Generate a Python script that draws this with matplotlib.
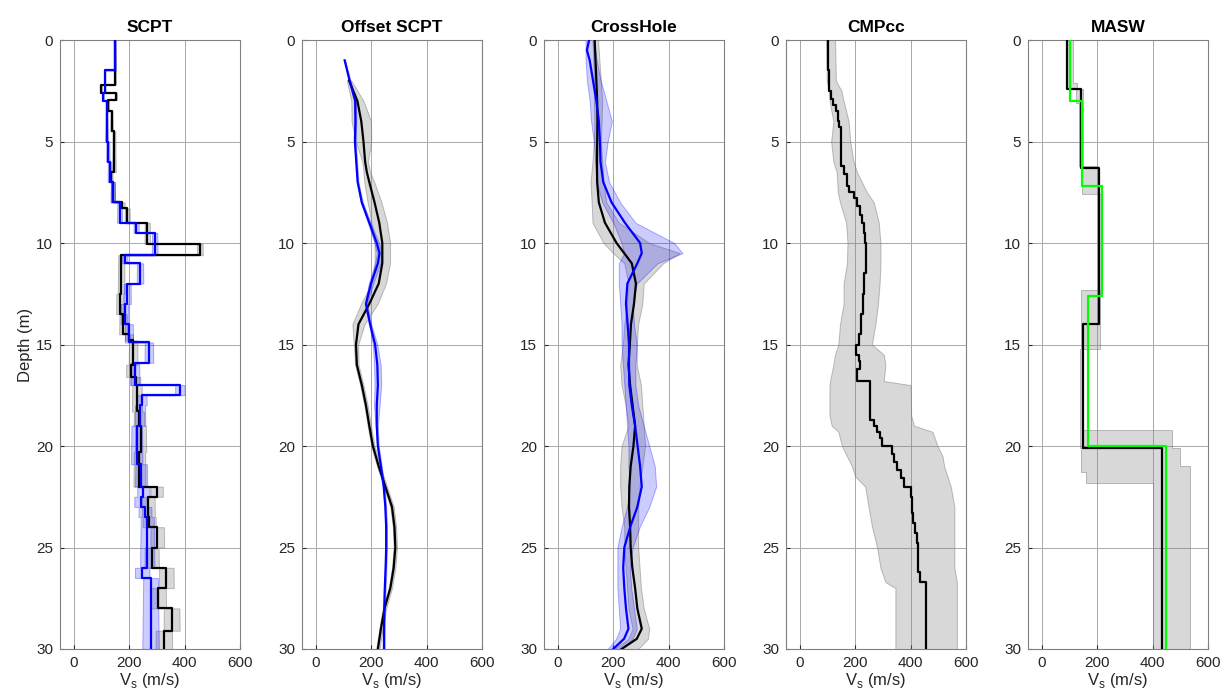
import numpy as np
import matplotlib
matplotlib.use('Agg')
import matplotlib.pyplot as plt

plt.rcParams['font.family'] = ['Liberation Sans', 'DejaVu Sans']

TITLES = ["SCPT", "Offset SCPT", "CrossHole", "CMPcc", "MASW"]
X_TICKS = [0, 200, 400, 600]
Y_TICKS = [0, 5, 10, 15, 20, 25, 30]

# SCPT, layered profiles (layer edges in m, Vs in m/s)
scpt_black_bounds = [0, 2.2, 2.6, 2.95, 3.5, 4.5, 6.5, 7.0, 8.0, 8.3, 9.0, 10.05, 10.6, 12.5, 13.5, 14.5,
                     14.8, 16.0, 16.6, 17.0, 18.3, 19.0, 20.3, 22.0, 22.5, 23.5, 24.0, 25.0, 26.0, 27.0,
                     28.0, 29.1, 30.0]
scpt_black_vs = [150, 99, 153, 124, 136, 145, 133, 141, 175, 193, 265, 455, 171, 166, 178, 199, 214, 205,
                 223, 228, 235, 241, 237, 299, 269, 272, 301, 281, 334, 305, 353, 325]
scpt_black_sd = [2, 3, 2, 2, 2, 2, 2, 2, 2, 2, 3, 10, 2, 2, 2, 2, 2, 2, 2, 2, 2, 2, 2, 3, 3, 3, 8, 3, 3,
                 3, 3, 12]
scpt_blue_bounds = [0, 1.5, 2.6, 3.0, 5.0, 6.0, 7.0, 8.0, 9.0, 9.5, 10.6, 11.0, 12.0, 13.0, 14.0, 14.9,
                    15.9, 17.0, 17.5, 18.0, 19.0, 20.9, 22.0, 22.5, 23.0, 23.5, 26.0, 26.5, 30.0]
scpt_blue_vs = [150, 112, 106, 118, 123, 129, 141, 165, 225, 292, 183, 239, 193, 183, 199, 271, 220, 383,
                245, 239, 227, 243, 251, 241, 257, 265, 247, 277]
scpt_blue_sd = [2, 2, 2, 2, 2, 2, 2, 2, 2, 2, 2, 5, 2, 2, 2, 2, 2, 10, 4, 2, 2, 2, 3, 7, 7, 2, 2, 2]

# Offset SCPT, smooth profiles
off_blue_depth = [1, 2, 3, 4, 5, 6, 7, 8, 9, 10, 10.5, 11, 12, 13, 14, 15, 16, 17, 18, 19, 20, 21, 22,
                  23, 24, 25, 26, 27, 28, 29, 30]
off_blue_vs = [104, 122, 142, 143, 141, 146, 151, 166, 193, 220, 230, 224, 199, 181, 196, 214, 222, 224,
               220, 220, 224, 235, 245, 251, 254, 254, 252, 249, 247, 246, 246]
off_blue_sd = [2, 3, 3, 3, 3, 3, 3, 4, 5, 8, 10, 10, 8, 4, 4, 8, 12, 12, 10, 4, 3, 3, 3, 3, 3, 3, 3, 3,
               3, 3, 3]
off_black_depth = [2, 3, 4, 5, 6, 6.5, 7, 8, 9, 10, 11, 12, 13, 14, 15, 16, 17, 18, 19, 20, 21, 22, 23,
                   24, 25, 26, 27, 28, 29, 30]
off_black_vs = [120, 150, 164, 172, 178, 184, 193, 212, 229, 240, 240, 227, 193, 154, 145, 148, 166, 181,
                193, 206, 227, 251, 275, 284, 287, 281, 269, 248, 235, 224]
off_black_sd = [8, 22, 35, 28, 10, 12, 18, 25, 28, 28, 28, 26, 30, 22, 8, 6, 6, 6, 6, 6, 6, 6, 6, 6, 6,
                6, 6, 6, 6, 6]

# CrossHole
ch_black_depth = [0, 1, 2, 3, 4, 5, 6, 7, 8, 9, 10, 11, 12, 13, 14, 15, 16, 17, 18, 19, 20, 21, 22, 23,
                  24, 25, 26, 27, 28, 29, 29.5, 30]
ch_black_vs = [133, 136, 139, 142, 143, 142, 141, 142, 148, 170, 212, 267, 282, 275, 264, 260, 255, 261,
               270, 279, 273, 263, 258, 257, 261, 263, 269, 279, 287, 303, 285, 230]
ch_blue_depth = [0, 0.5, 1, 2, 3, 4, 5, 6, 7, 8, 9, 10, 10.5, 11, 12, 13, 14, 15, 16, 17, 18, 19, 20, 21,
                 22, 23, 24, 25, 26, 27, 28, 29, 29.5, 30]
ch_blue_vs = [113, 105, 115, 127, 139, 148, 152, 154, 164, 194, 242, 297, 303, 287, 251, 246, 252, 257,
              257, 258, 267, 279, 288, 297, 303, 287, 261, 240, 236, 240, 246, 255, 239, 200]
ch_band_depth = [0, 1, 2, 3, 4, 5, 6, 7, 8, 9, 10, 10.5, 11, 12, 13, 14, 15, 16, 17, 18, 19, 20, 21, 22,
                 23, 24, 25, 26, 27, 28, 29, 29.5, 30]
ch_gray_lo = [125, 128, 130, 130, 132, 130, 125, 118, 122, 125, 165, 200, 240, 255, 250, 240, 235, 225,
              230, 245, 255, 230, 225, 225, 230, 240, 240, 245, 250, 255, 270, 255, 205]
ch_gray_hi = [145, 150, 155, 160, 158, 155, 160, 165, 175, 220, 330, 440, 380, 310, 305, 290, 285, 285,
              300, 305, 310, 315, 305, 295, 290, 290, 290, 295, 300, 310, 330, 325, 290]
ch_blue_lo = [100, 100, 105, 115, 120, 130, 135, 140, 160, 200, 230, 240, 220, 220, 225, 230, 230, 235,
              240, 245, 250, 255, 255, 260, 250, 230, 215, 215, 215, 220, 225, 210, 180]
ch_blue_hi = [130, 140, 155, 175, 195, 180, 170, 185, 225, 280, 420, 450, 360, 285, 270, 275, 285, 280,
              280, 290, 310, 330, 350, 355, 330, 295, 270, 260, 265, 275, 285, 270, 230]

# CMPcc
cmp_bounds = [0, 1.5, 2.5, 2.9, 3.2, 3.5, 4.0, 4.3, 6.2, 6.6, 7.2, 7.5, 7.8, 8.2, 8.6, 9.0, 9.5, 10.0,
              11.5, 12.5, 13.5, 14.5, 15.0, 15.5, 15.8, 16.2, 16.8, 18.7, 19.0, 19.3, 19.6, 20.0, 20.4,
              20.8, 21.2, 21.6, 22.0, 22.5, 23.3, 23.8, 24.3, 24.8, 26.2, 26.7, 30]
cmp_vs = [103, 107, 111, 121, 130, 136, 143, 149, 160, 170, 179, 194, 206, 216, 224, 230, 236, 239, 233,
          228, 221, 212, 202, 212, 218, 206, 252, 267, 279, 288, 297, 333, 339, 351, 364, 376, 400, 406,
          410, 416, 422, 427, 433, 455]
cmp_band_depth = [0, 2, 2.5, 3, 4, 5, 6, 6.5, 7.5, 8, 9, 10, 11, 12, 13, 14, 15, 15.5, 16, 16.8, 17,
                  18.5, 19, 19.3, 20, 20.5, 21, 21.5, 22, 23, 24, 25, 26, 26.7, 27, 30]
cmp_band_lo = [95, 97, 105, 107, 121, 113, 121, 133, 137, 145, 167, 172, 170, 158, 158, 145, 139, 127,
               121, 109, 107, 107, 115, 139, 152, 170, 188, 200, 236, 248, 261, 279, 291, 309, 345, 345]
cmp_band_hi = [127, 130, 150, 158, 176, 182, 194, 206, 242, 267, 285, 291, 291, 288, 282, 273, 260, 303,
               309, 303, 400, 402, 412, 479, 497, 515, 521, 533, 545, 558, 558, 558, 558, 567, 567, 567]

# MASW
masw_black_bounds = [0, 2.4, 6.3, 14.0, 20.1, 30]
masw_black_vs = [92, 143, 207, 147, 434]
masw_green_bounds = [0, 3.0, 7.2, 12.6, 20.0, 30]
masw_green_vs = [103, 145, 217, 165, 450]
masw_band_bounds = [0, 2.1, 2.4, 3.1, 6.2, 7.6, 12.3, 15.2, 19.2, 20.1, 21.0, 21.3, 21.8, 30]
masw_band_lo = [92, 92, 125, 133, 145, 203, 140, 137, 137, 143, 143, 159, 400]
masw_band_hi = [113, 127, 147, 149, 204, 212, 210, 149, 470, 500, 534, 534, 534]

GRAY_FACE = (0.5, 0.5, 0.5, 0.3)
GRAY_EDGE = (0.45, 0.45, 0.45, 0.45)
BLUE_FACE = (0.0, 0.0, 1.0, 0.2)
BLUE_EDGE = (0.0, 0.0, 1.0, 0.3)


def layers(bounds, values):
    # turn layer edges + layer values into a vertical step line
    d = np.repeat(np.asarray(bounds, float), 2)[1:-1]
    v = np.repeat(np.asarray(values, float), 2)
    return v, d


def band(ax, depth, lo, hi, face, edge):
    ax.fill_betweenx(depth, lo, hi, facecolor=face, edgecolor=edge,
                     linewidth=0.7, zorder=2)


fig = plt.figure(figsize=(12.31, 6.99), dpi=100)
lefts = [60, 302, 544, 786, 1028]
axes = []
for i, l in enumerate(lefts):
    ax = fig.add_axes([l / 1231, 50 / 699, 180 / 1231, 609 / 699])
    axes.append(ax)

# SCPT
ax = axes[0]
v, d = layers(scpt_black_bounds, scpt_black_vs)
_, sd = layers(scpt_black_bounds, scpt_black_sd)
band(ax, d, v - sd, v + sd, GRAY_FACE, GRAY_EDGE)
vb, db = layers(scpt_blue_bounds, scpt_blue_vs)
_, sdb = layers(scpt_blue_bounds, scpt_blue_sd)
band(ax, db, vb - sdb, vb + sdb, BLUE_FACE, BLUE_EDGE)
ax.plot(v, d, color="black", lw=1.6, zorder=3)
ax.plot(vb, db, color="blue", lw=1.6, zorder=4)

# Offset SCPT
ax = axes[1]
ob = np.array(off_black_vs, float)
osd = np.array(off_black_sd, float)
band(ax, off_black_depth, ob - osd, ob + osd, GRAY_FACE, GRAY_EDGE)
obl = np.array(off_blue_vs, float)
obsd = np.array(off_blue_sd, float)
band(ax, off_blue_depth, obl - obsd, obl + obsd, BLUE_FACE, BLUE_EDGE)
ax.plot(ob, off_black_depth, color="black", lw=1.6, zorder=3)
ax.plot(obl, off_blue_depth, color="blue", lw=1.6, zorder=4)

# CrossHole
ax = axes[2]
band(ax, ch_band_depth, ch_gray_lo, ch_gray_hi, GRAY_FACE, GRAY_EDGE)
band(ax, ch_band_depth, ch_blue_lo, ch_blue_hi, BLUE_FACE, BLUE_EDGE)
ax.plot(ch_black_vs, ch_black_depth, color="black", lw=1.6, zorder=3)
ax.plot(ch_blue_vs, ch_blue_depth, color="blue", lw=1.6, zorder=4)

# CMPcc
ax = axes[3]
band(ax, cmp_band_depth, cmp_band_lo, cmp_band_hi, GRAY_FACE, GRAY_EDGE)
v, d = layers(cmp_bounds, cmp_vs)
ax.plot(v, d, color="black", lw=1.6, zorder=3)

# MASW
ax = axes[4]
lo, bd = layers(masw_band_bounds, masw_band_lo)
hi, _ = layers(masw_band_bounds, masw_band_hi)
band(ax, bd, lo, hi, GRAY_FACE, GRAY_EDGE)
v, d = layers(masw_black_bounds, masw_black_vs)
ax.plot(v, d, color="black", lw=1.6, zorder=3)
v, d = layers(masw_green_bounds, masw_green_vs)
ax.plot(v, d, color="#00ff00", lw=1.6, zorder=4)

for ax, title in zip(axes, TITLES):
    ax.set_xlim(-50, 600)
    ax.set_ylim(30, 0)
    ax.set_xticks(X_TICKS)
    ax.set_yticks(Y_TICKS)
    ax.grid(True, color="#a8a8a8", lw=0.7)
    ax.set_axisbelow(True)
    ax.tick_params(direction="in", length=3, labelsize=11, colors="#262626", pad=5)
    for s in ax.spines.values():
        s.set_color("#808080")
        s.set_linewidth(0.8)
    ax.set_title(title, fontsize=12.5, fontweight="bold", pad=6)
    ax.set_xlabel(r"V$_\mathregular{s}$ (m/s)", fontsize=12, color="#262626", labelpad=1)

axes[0].set_ylabel("Depth (m)", fontsize=12, color="#262626", labelpad=2)

plt.savefig("out.png", dpi=100)
plt.close()
